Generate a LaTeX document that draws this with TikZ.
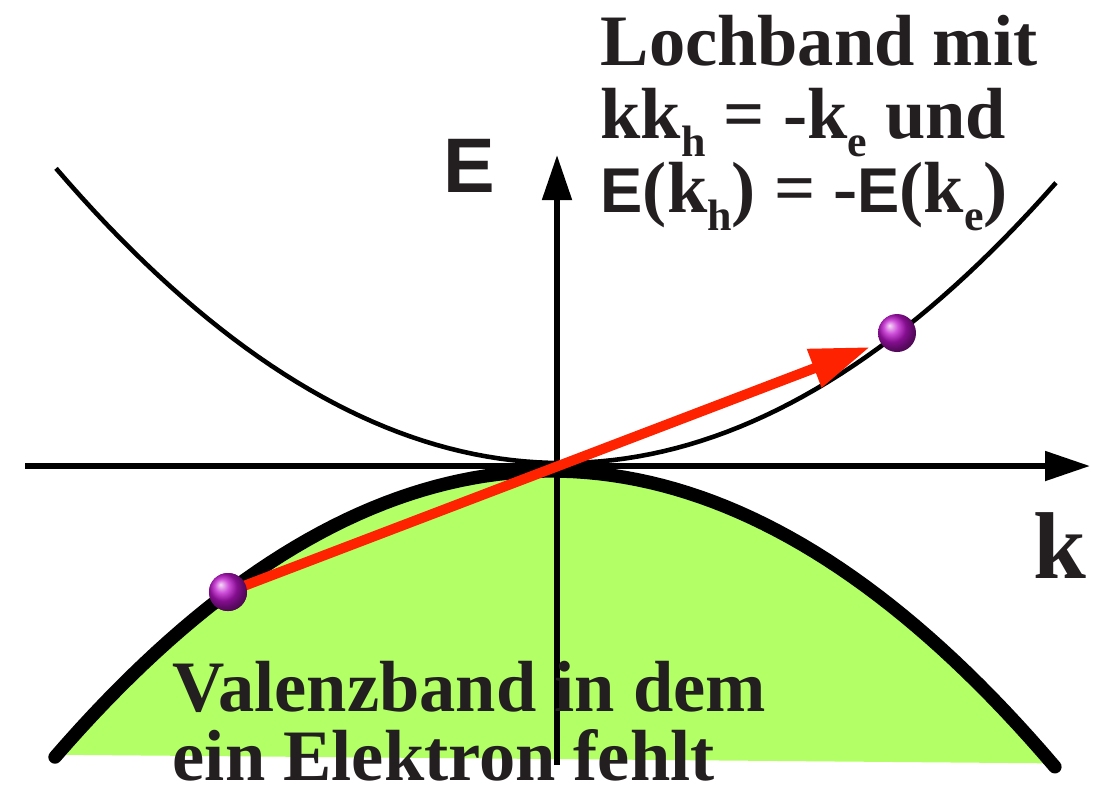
\documentclass[tikz,border=0pt]{standalone}
\usepackage{fontspec}
\setmainfont{Liberation Serif}
\setsansfont{Liberation Sans}
\usetikzlibrary{arrows.meta, positioning}

\definecolor{bandgreen}{RGB}{178,255,102}
\definecolor{arrowred}{RGB}{255,34,0}
\definecolor{ballviolet}{RGB}{190,20,205}
\definecolor{inkdark}{RGB}{35,31,32}

\newcommand{\subidx}[1]{\raisebox{-0.25em}{\fontsize{12.5}{12.5}\selectfont #1}}

\begin{document}
\begin{tikzpicture}[
    x=0.01cm, y=-0.01cm,
    axis/.style={line width=1.6pt, -{Triangle[length=12.8pt, width=8.2pt]}},
    condband/.style={line width=1.3pt},
    valband/.style={line width=3.8pt, line cap=round},
    kvec/.style={line width=2.85pt, color=arrowred, -{Triangle[length=17pt, width=11pt]}},
    carrier/.style={circle, inner sep=0pt, minimum size=0.38cm, shading=ball, ball color=ballviolet},
    txt/.style={font=\bfseries\fontsize{20.6}{20.8}\selectfont, text=inkdark, inner sep=0pt, align=left}
]
    \useasboundingbox (0,0) rectangle (1097,793);

    \coordinate (O) at (557,466);
    \coordinate (kmin) at (25,466);
    \coordinate (kmax) at (1090,466);
    \coordinate (Emin) at (557,765);
    \coordinate (Emax) at (557,155);

    % Valenzband (gefuellt)
    \fill[bandgreen] plot[domain=-5:4.95, samples=80] ({557+100*\x},{471+11.64*(\x)*(\x)+1.45*(\x)}) -- cycle;
    \draw[valband] plot[domain=-5.02:4.98, samples=80] ({557+100*\x},{471+11.64*(\x)*(\x)+1.45*(\x)});

    % Leitungsband
    \draw[condband] plot[domain=-5.01:4.99, samples=80] ({557+100*\x},{463-11.5*(\x)*(\x)+1.2*(\x)});

    % Achsen
    \draw[axis] (kmin) -- (kmax);
    \draw[axis] (Emin) -- (Emax);

    % Wellenvektor
    \node[carrier] (hole) at (228,592) {};
    \node[carrier] (elec) at (897,333) {};
    \coordinate (kend) at (870,347);
    \draw[kvec] (hole.center) -- (kend);
    \node[carrier] at (hole) {};

    % Beschriftung
    \node[txt, font=\bfseries\sffamily\fontsize{22}{22}\selectfont, anchor=base west] (Elabel) at (443,192) {E};
    \node[txt, font=\bfseries\fontsize{27}{27}\selectfont, anchor=base west] (klabel) at (1033,578) {k};
    \node[txt, anchor=base west] (holetext) at (600,212)
        {Lochband mit\\
         kk\subidx{h} = -k\subidx{e} und\\
         {\sffamily\fontsize{18}{18}\selectfont E}(k\subidx{h}) = -{\sffamily\fontsize{18}{18}\selectfont E}(k\subidx{e})};
    \node[txt, font=\bfseries\fontsize{20.6}{19.35}\selectfont, anchor=base west] (valtext) at (172,780)
        {Valenzband in dem\\ein Elektron fehlt};
\end{tikzpicture}
\end{document}
